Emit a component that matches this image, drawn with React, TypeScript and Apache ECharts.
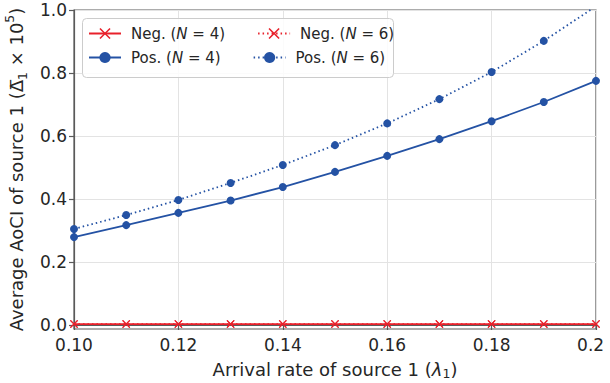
import React, { useEffect, useRef } from 'react';
import * as echarts from 'echarts';

const lambdas = [0.10, 0.11, 0.12, 0.13, 0.14, 0.15, 0.16, 0.17, 0.18, 0.19, 0.20];
const negN4 = [0.003, 0.003, 0.003, 0.003, 0.003, 0.003, 0.003, 0.003, 0.003, 0.003, 0.003];
const negN6 = [0.003, 0.003, 0.003, 0.003, 0.003, 0.003, 0.003, 0.003, 0.003, 0.003, 0.003];
const posN4 = [0.279, 0.317, 0.356, 0.395, 0.438, 0.486, 0.537, 0.590, 0.647, 0.708, 0.775];
const posN6 = [0.305, 0.349, 0.397, 0.451, 0.508, 0.571, 0.640, 0.717, 0.803, 0.902, 1.012];
const yTicks = [0, 0.2, 0.4, 0.6, 0.8, 1.0];
const xTickDecimals = 2;
const yTickDecimals = 1;

const seriesNames = ['Neg. (N = 4)', 'Neg. (N = 6)', 'Pos. (N = 4)', 'Pos. (N = 6)'];

const RED = '#e8212b';
const BLUE = '#2452a4';
const FONT = 'DejaVu Sans';
const TXT = '#262626';
const SPINE = '#5a5a5a';
const XMARK = 'path://M1,0 L5,4 L9,0 L10,1 L6,5 L10,9 L9,10 L5,6 L1,10 L0,9 L4,5 L0,1 Z';

const pairs = (ys: number[]) => lambdas.map((x, i) => [x, ys[i]]);

const legendFormatter = (name: string) => {
  const m = name.match(/^(.*\()N( = \d\))$/);
  if (!m) return name;
  return `{a|${m[1]}}{i|N}{a|${m[2]}}`;
};

export default function App() {
  const ref = useRef<HTMLDivElement>(null);
  useEffect(() => {
    if (!ref.current) return;
    const chart = echarts.init(ref.current, undefined, { renderer: 'svg' });
    const legendText = {
      fontFamily: FONT,
      fontSize: 15,
      color: TXT,
      width: 100,
      padding: [0, 0, 0, 5],
      rich: {
        a: { fontFamily: FONT, fontSize: 15, color: TXT, lineHeight: 17 },
        i: { fontFamily: FONT, fontSize: 15, color: TXT, fontStyle: 'italic', lineHeight: 17 },
      },
    };
    const legendCommon = {
      orient: 'horizontal',
      left: 88,
      itemWidth: 32,
      itemHeight: 14,
      itemGap: 32,
      padding: 0,
      formatter: legendFormatter,
      textStyle: legendText,
      z: 5,
    };
    const mkSeries = (name: string, ys: number[], color: string, dotted: boolean, cross: boolean) => ({
      name,
      type: 'line',
      data: pairs(ys),
      symbol: cross ? XMARK : 'circle',
      symbolSize: 8,
      showSymbol: true,
      clip: true,
      lineStyle: { color, width: 1.8, type: dotted ? [1.5, 3] : 'solid' },
      itemStyle: { color },
      z: 2,
    });
    const option: any = {
      animation: false,
      backgroundColor: '#ffffff',
      grid: {
        left: 74,
        right: 8,
        top: 10,
        bottom: 54,
        outerBoundsMode: 'none',
        containLabel: false,
        show: true,
        borderColor: SPINE,
        borderWidth: 1.2,
        backgroundColor: 'transparent',
      },
      legend: [
        { ...legendCommon, top: 26, data: [seriesNames[0], seriesNames[1]] },
        { ...legendCommon, top: 50, data: [seriesNames[2], seriesNames[3]] },
      ],
      graphic: [
        {
          type: 'rect',
          left: 82,
          top: 18,
          shape: { width: 311, height: 59, r: 4 },
          style: { fill: 'rgba(255,255,255,0.85)', stroke: '#cccccc', lineWidth: 1 },
          z: 3,
        },
      ],
      xAxis: {
        type: 'value',
        min: 0.10,
        max: 0.20,
        interval: 0.02,
        name: '{a|Arrival rate of source 1 (}{l|λ}{s|1}{a|)}',
        nameLocation: 'middle',
        nameGap: 29,
        nameTextStyle: {
          rich: {
            a: { fontFamily: FONT, fontSize: 18, color: TXT, lineHeight: 22 },
            l: { fontFamily: FONT, fontSize: 18, color: TXT, fontStyle: 'italic', lineHeight: 22 },
            s: { fontFamily: FONT, fontSize: 12.5, color: TXT, verticalAlign: 'bottom', lineHeight: 12 },
          },
        },
        axisLine: { show: true, lineStyle: { color: SPINE, width: 1.2 } },
        axisTick: { show: true, length: 5, lineStyle: { color: SPINE, width: 1.2 } },
        axisLabel: {
          fontFamily: FONT,
          fontSize: 17,
          color: TXT,
          margin: 7,
          hideOverlap: false,
          formatter: (v: number) => v.toFixed(xTickDecimals),
        },
        splitLine: { show: true, lineStyle: { color: '#e3e3e3', width: 1 } },
      },
      yAxis: {
        type: 'value',
        min: -0.0127,
        max: 1.0,
        name: '{a|Average AoCI of source 1 (}{d|Δ\u0305}{s|1}{a| × 10}{p|5}{a|)}',
        nameLocation: 'middle',
        nameRotate: 90,
        nameGap: 43,
        nameTextStyle: {
          rich: {
            a: { fontFamily: FONT, fontSize: 18, color: TXT, lineHeight: 26 },
            d: { fontFamily: FONT, fontSize: 18, color: TXT, lineHeight: 26 },
            s: { fontFamily: FONT, fontSize: 12.5, color: TXT, verticalAlign: 'bottom', lineHeight: 14 },
            p: { fontFamily: FONT, fontSize: 12.5, color: TXT, verticalAlign: 'top', lineHeight: 14 },
          },
        },
        axisLine: { show: true, lineStyle: { color: SPINE, width: 1.2 } },
        axisTick: { show: true, length: 5, customValues: yTicks, lineStyle: { color: SPINE, width: 1.2 } },
        axisLabel: {
          fontFamily: FONT,
          fontSize: 17,
          color: TXT,
          margin: 7,
          customValues: yTicks,
          formatter: (v: number) => v.toFixed(yTickDecimals),
        },
        splitLine: { show: true, lineStyle: { color: '#e3e3e3', width: 1 } },
      },
      series: [
        mkSeries(seriesNames[0], negN4, RED, false, true),
        mkSeries(seriesNames[1], negN6, RED, true, true),
        mkSeries(seriesNames[2], posN4, BLUE, false, false),
        mkSeries(seriesNames[3], posN6, BLUE, true, false),
      ],
    };
    chart.setOption(option);
    return () => chart.dispose();
  }, []);
  return (
    <div
      ref={ref}
      style={{ position: 'fixed', left: 0, top: 0, width: 604, height: 383, background: '#fff', overflow: 'hidden' }}
    />
  );
}
